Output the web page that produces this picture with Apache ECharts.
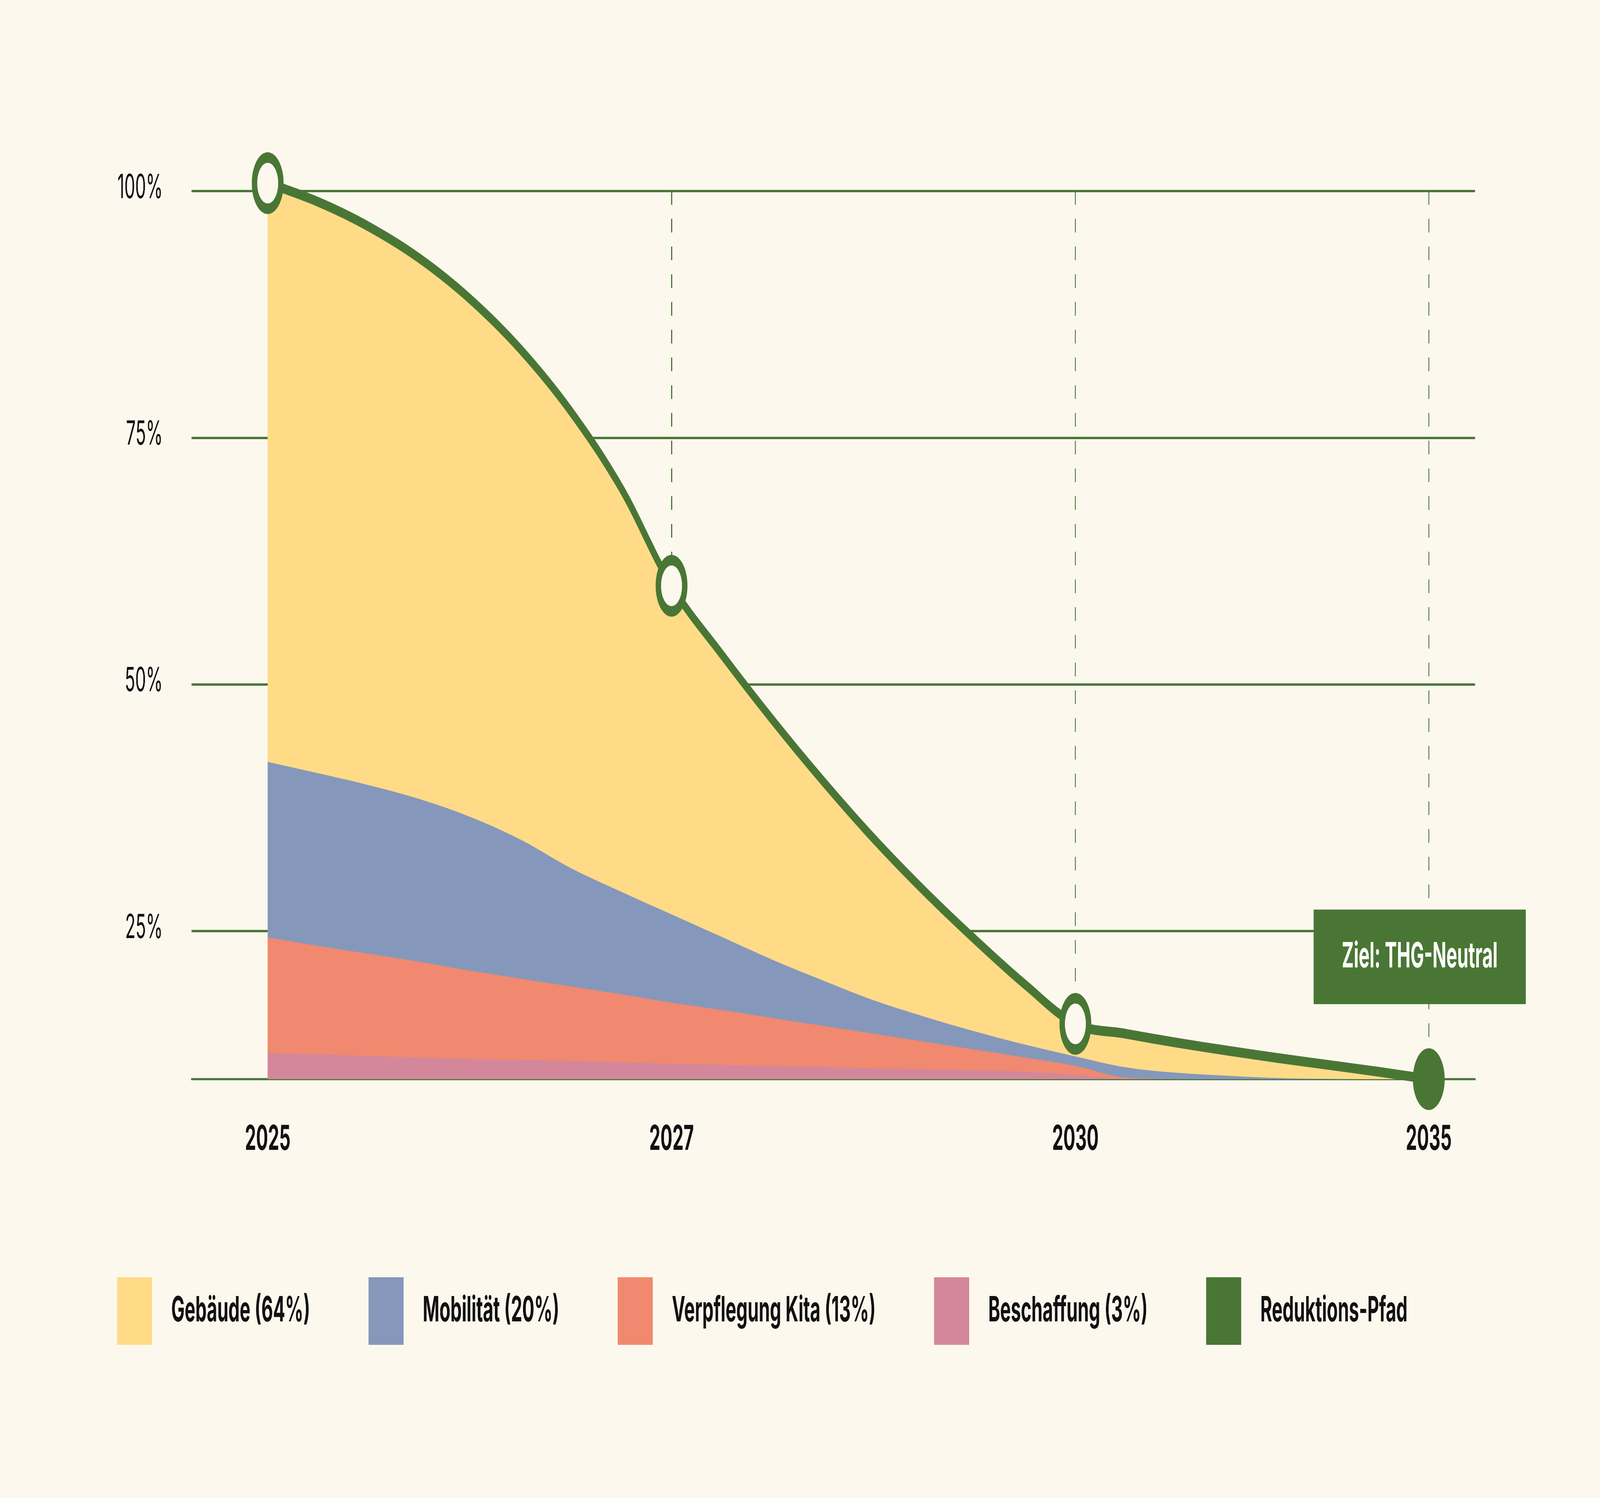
<!DOCTYPE html>
<html lang="de">
<head>
<meta charset="utf-8">
<title>Reduktionspfad THG</title>
<script src="https://cdn.jsdelivr.net/npm/echarts@6/dist/echarts.min.js"></script>
<style>
    html, body { margin: 0; padding: 0; width: 100vw; height: 100vh; overflow: hidden; background: #fcf8ee; }
    #chart-reduktion { position: absolute; left: 0; top: 0; width: 7943px; height: 3834px; transform-origin: 0 0; }
</style>
</head>
<body>
<div id="chart-reduktion"></div>
<script>
// time axis: one step = 1/8 of the 2025-2027 distance, years sit on these steps
const yearLabels = ["2025", "2027", "2030", "2035"];
const yearSteps = [0, 8, 16, 23];
const steps = [0, 1, 2, 3, 4, 5, 6, 7, 8, 9, 10, 11, 12, 13, 14, 15, 16, 17, 18, 19, 20, 21, 22, 23];

// the chart's floor sits at 10 on the percent scale
const axisFloor = 10;

// band thickness per step (percent points), bottom band first
const beschaffung = [2.65, 2.5, 2.35, 2.2, 2.05, 1.95, 1.85, 1.7, 1.55, 1.45, 1.35, 1.25, 1.1, 1.0, 0.9, 0.75, 0.45, 0.05, 0, 0, 0, 0, 0, 0];
const verpflegung = [11.7, 11.0, 10.35, 9.7, 8.95, 8.25, 7.55, 6.9, 6.2, 5.55, 4.85, 4.15, 3.5, 2.8, 2.1, 1.45, 0.9, 0.1, 0, 0, 0, 0, 0, 0];
const mobilitaet = [17.8, 17.5, 17.1, 16.5, 15.6, 14.1, 12.0, 10.4, 8.95, 7.4, 5.9, 4.6, 3.4, 2.55, 1.85, 1.3, 0.95, 1.05, 0.65, 0.35, 0.12, 0.03, 0, 0];
const gebaeude = [58.65, 57.9, 56.6, 54.8, 52.5, 49.7, 46.3, 40.9, 33.3, 28.6, 24.3, 20.2, 16.4, 12.75, 9.35, 6.1, 3.3, 3.4, 3.05, 2.55, 2.03, 1.42, 0.75, 0];

const yTicks = [25, 50, 75, 100];

const GREEN = "#4a7635";
const BG = "#fcf8ee";
const FONT = "Inter";
const SMOOTH = 0.35;

// size the layout below is drawn for
const DESIGN_W = 7943;
const DESIGN_H = 3834;

// bottom to top
const bands = [
    { name: "Beschaffung (3%)", data: beschaffung, color: "#d4879a" },
    { name: "Verpflegung Kita (13%)", data: verpflegung, color: "#f0896f" },
    { name: "Mobilität (20%)", data: mobilitaet, color: "#8598bb" },
    { name: "Gebäude (64%)", data: gebaeude, color: "#ffdb88" },
];

const areaOptions = {
    type: "line",
    smooth: SMOOTH,
    symbol: "none",
    clip: false,
    silent: true,
    lineStyle: { width: 0 },
    z: 2,
};

function toPoints(values) {
    return steps.map((s, i) => [s, values[i]]);
}

// the browser window may be narrower than the design, so stretch the chart to fill it
function fitToWindow(el) {
    let sx = window.innerWidth / DESIGN_W;
    let sy = window.innerHeight / DESIGN_H;
    el.style.transform = `scale(${sx}, ${sy})`;
}

function createReductionChart() {
    let chartDom = document.getElementById("chart-reduktion");
    fitToWindow(chartDom);
    let myChart = echarts.init(chartDom, null, { renderer: "canvas" });

    // upper edge of every band, summed from the floor
    let levels = [];
    let running = steps.map(() => axisFloor);
    for (let i = 0; i < bands.length; i++) {
        running = running.map((v, j) => v + bands[i].data[j]);
        levels.push(running);
    }
    let total = levels[levels.length - 1];

    // areas fill down to the floor, so the top band is drawn first
    let series = [];
    for (let i = bands.length - 1; i >= 0; i--) {
        series.push({
            name: bands[i].name,
            ...areaOptions,
            color: bands[i].color,
            areaStyle: { color: bands[i].color, opacity: 1, origin: "start" },
            data: toPoints(levels[i]),
        });
    }

    let pathData = steps.map((s, i) => {
        let k = yearSteps.indexOf(s);
        if (k < 0) {
            return { value: [s, total[i]], symbol: "none" };
        }
        let item = { value: [s, total[i]] };
        if (k === yearSteps.length - 1) {
            item.itemStyle = { color: GREEN };
            item.label = {
                show: true,
                position: "top",
                distance: 113,
                offset: [-45, 0],
                formatter: "Ziel: THG-Neutral",
                color: "#ffffff",
                fontFamily: FONT,
                fontSize: 90,
                fontWeight: 700,
                lineHeight: 108,
                backgroundColor: GREEN,
                padding: [67, 140],
            };
        }
        return item;
    });

    let guideLines = yearSteps.slice(1).map((s) => [
        { coord: [s, 100] },
        { coord: [s, total[steps.indexOf(s)]] },
    ]);

    series.push({
        name: "Reduktions-Pfad",
        type: "line",
        smooth: SMOOTH,
        clip: false,
        z: 10,
        symbol: "circle",
        symbolSize: 131,
        color: GREEN,
        lineStyle: { color: GREEN, width: 25 },
        itemStyle: { color: BG, borderColor: GREEN, borderWidth: 27 },
        data: pathData,
        markLine: {
            silent: true,
            z: 3,
            symbol: ["none", "none"],
            label: { show: false },
            lineStyle: { color: GREEN, width: 5, type: [35, 36] },
            data: guideLines,
        },
    });

    let option = {
        backgroundColor: BG,
        animation: false,
        textStyle: { fontFamily: FONT },
        grid: { left: 951, right: 620, top: 489, bottom: 1072 },
        xAxis: {
            type: "value",
            min: -1.508,
            max: 23.918,
            axisLine: { show: true, lineStyle: { color: GREEN, width: 5.5 } },
            axisTick: { show: false },
            splitLine: { show: false },
            axisLabel: {
                customValues: yearSteps,
                formatter: (v) => yearLabels[yearSteps.indexOf(v)] || "",
                margin: 111,
                color: "#111111",
                fontFamily: FONT,
                fontSize: 88,
                fontWeight: 700,
            },
        },
        yAxis: {
            type: "value",
            min: axisFloor,
            max: 100,
            axisLine: { show: false },
            axisTick: { show: false, customValues: yTicks },
            splitLine: { show: true, lineStyle: { color: GREEN, width: 6 } },
            axisLabel: {
                customValues: yTicks,
                formatter: "{value}%",
                margin: 143,
                color: "#111111",
                fontFamily: FONT,
                fontSize: 85,
                verticalAlign: "bottom",
                lineHeight: 16,
            },
        },
        legend: {
            left: 576,
            top: 3264,
            orient: "horizontal",
            icon: "rect",
            itemWidth: 174,
            itemHeight: 173,
            itemGap: 290,
            itemStyle: { borderWidth: 0 },
            textStyle: {
                color: "#111111",
                fontFamily: FONT,
                fontSize: 89,
                fontWeight: 700,
                padding: [0, 0, 0, 90],
            },
            data: [
                "Gebäude (64%)",
                "Mobilität (20%)",
                "Verpflegung Kita (13%)",
                "Beschaffung (3%)",
                { name: "Reduktions-Pfad", itemStyle: { color: GREEN, borderWidth: 0 } },
            ],
        },
        series,
    };

    option && myChart.setOption(option);
}

createReductionChart();
</script>
</body>
</html>
